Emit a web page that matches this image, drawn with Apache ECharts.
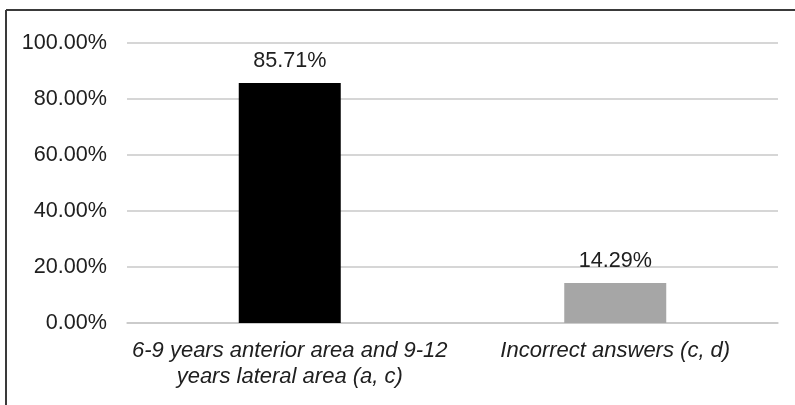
<!DOCTYPE html>
<html>
<head>
<meta charset="utf-8">
<script src="https://cdn.jsdelivr.net/npm/echarts@6/dist/echarts.min.js"></script>
<style>
  html, body { margin: 0; padding: 0; background: #fff; }
  #chart { width: 795px; height: 405px; }
</style>
</head>
<body>
<div id="chart"></div>
<script>
// Answer categories and their share of responses (percent)
const categories = [
  '6-9 years anterior area and 9-12\nyears lateral area (a, c)',
  'Incorrect answers (c, d)'
];
const percentages = [85.71, 14.29];
const barColors = ['#000000', '#a6a6a6'];
const yTicks = [0, 20, 40, 60, 80, 100];

const font = 'Liberation Sans, Arial, sans-serif';
const textColor = '#202020';
const chart = echarts.init(document.getElementById('chart'));

chart.setOption({
  animation: false,
  backgroundColor: '#ffffff',
  grid: { left: 127, right: 17, top: 43, bottom: 82, containLabel: false },
  xAxis: {
    type: 'category',
    data: categories,
    axisLine: { show: true, lineStyle: { color: '#c8c8c8', width: 1.5 } },
    axisTick: { show: false },
    axisLabel: {
      color: textColor, fontFamily: font, fontSize: 22, fontStyle: 'italic',
      lineHeight: 26, margin: 15, interval: 0
    }
  },
  yAxis: {
    type: 'value',
    min: yTicks[0],
    max: yTicks[yTicks.length - 1],
    interval: 20,
    axisLine: { show: false },
    axisTick: { show: false },
    splitLine: { lineStyle: { color: '#c8c8c8', width: 1.5 } },
    axisLabel: {
      color: textColor, fontFamily: font, fontSize: 21.6, margin: 20,
      formatter: v => v.toFixed(2) + '%'
    }
  },
  series: [{
    type: 'bar',
    barWidth: 102,
    data: percentages.map((v, i) => ({ value: v, itemStyle: { color: barColors[i] } })),
    label: {
      show: true, position: 'top', distance: 11,
      color: textColor, fontFamily: font, fontSize: 21.6,
      formatter: p => p.value.toFixed(2) + '%'
    }
  }],
  graphic: [
    { type: 'line', shape: { x1: 6, y1: 10, x2: 795, y2: 10 }, style: { stroke: '#3a3a3a', lineWidth: 2 } },
    { type: 'line', shape: { x1: 6, y1: 10, x2: 6, y2: 405 }, style: { stroke: '#3a3a3a', lineWidth: 2 } }
  ]
});
</script>
</body>
</html>
